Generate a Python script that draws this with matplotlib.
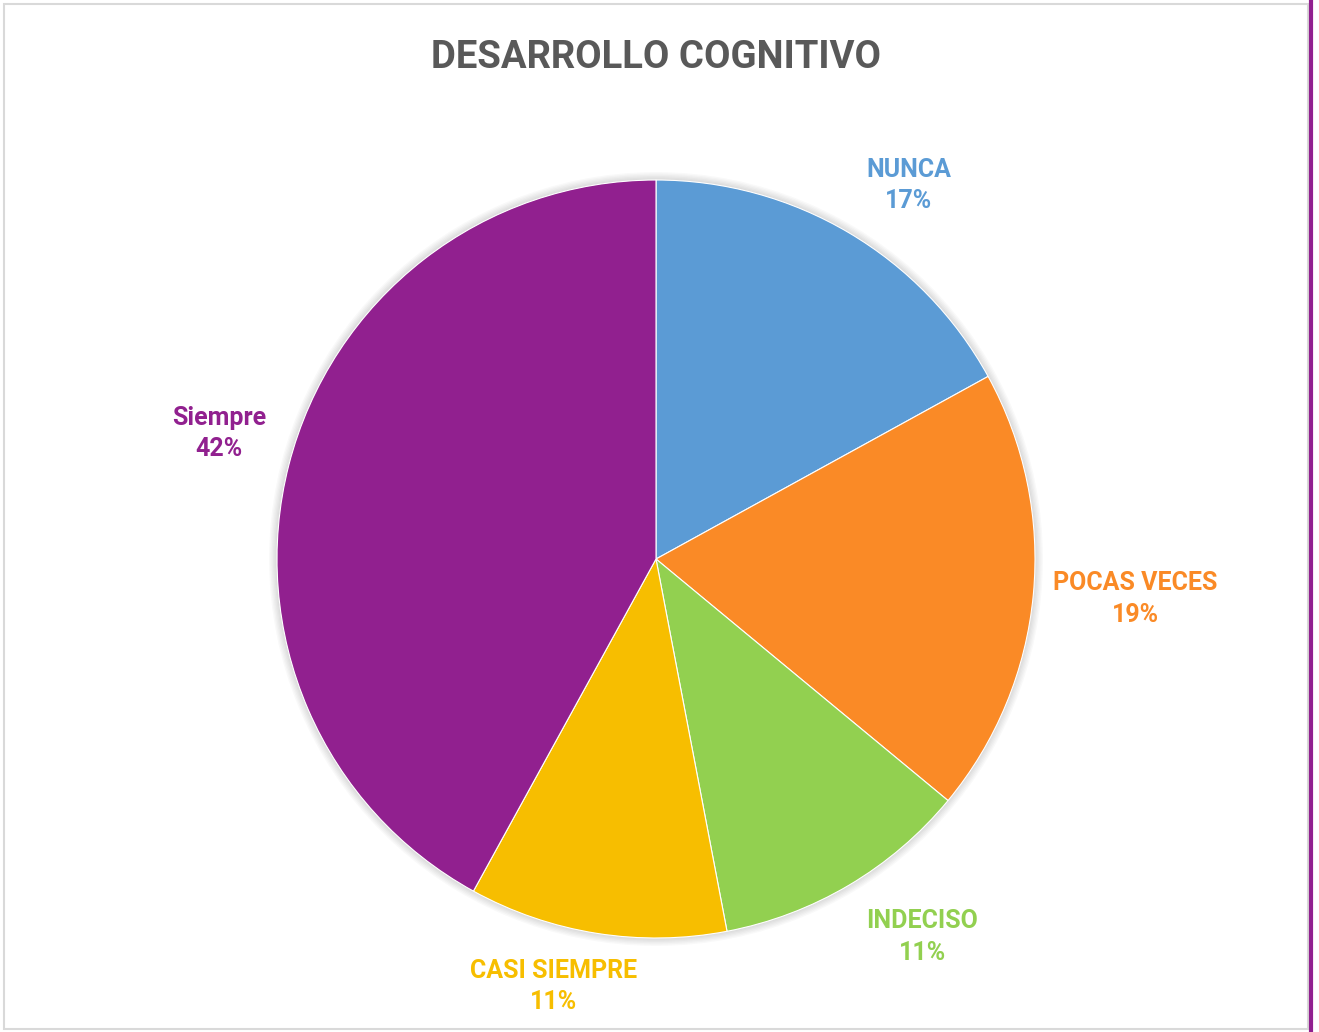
import numpy as np
import matplotlib.pyplot as plt
from matplotlib.patches import Rectangle, Circle
from matplotlib.lines import Line2D

categories = ['NUNCA', 'POCAS VECES', 'INDECISO', 'CASI SIEMPRE', 'Siempre']
values = [17, 19, 11, 11, 42]
colors = ['#5B9BD5', '#FA8A26', '#92D050', '#F7BE00', '#91208F']
label_dist = [1.19, 1.27, 1.22, 1.16, 1.20]
label_shift = [-3.5, 0.6, 4.6, -4.5, -1.6]   # degrees, like excel's best fit

W, H = 1319, 1032
cx, cy, R = 656, 559, 379
FONT = ['Roboto', 'DejaVu Sans']

fig = plt.figure(figsize=(W / 100, H / 100), dpi=100)
fig.patch.set_facecolor('white')

# chart border and the purple line on the right
fig.add_artist(Rectangle((4 / W, 3 / H), 1304 / W, 1025 / H, transform=fig.transFigure,
                         fill=False, edgecolor='#D9D9D9', linewidth=1.5))
fig.add_artist(Line2D([1311 / W, 1311 / W], [0, 1], transform=fig.transFigure,
                      color='#91208F', linewidth=3))

ax = fig.add_axes([0, 0, 1, 1])
ax.axis('off')

# soft shadow round the pie
for k in range(6):
    ax.add_patch(Circle((0, 0), 1 + 0.0035 * (k + 1), color='black', alpha=0.025,
                        linewidth=0, zorder=0))

wedges, _ = ax.pie(values, colors=colors, startangle=90, counterclock=False,
                   radius=1, wedgeprops=dict(edgecolor='white', linewidth=0.8))

ax.set_xlim(-cx / R, (W - cx) / R)
ax.set_ylim(-(H - cy) / R, cy / R)
ax.set_aspect('equal')

for w, name, c, d, s, v in zip(wedges, categories, colors, label_dist, label_shift, values):
    ang = np.deg2rad((w.theta1 + w.theta2) / 2 + s)
    ax.text(d * np.cos(ang), d * np.sin(ang), f'{name}\n{v}%', ha='center', va='center',
            color=c, fontsize=18, fontweight='bold', family=FONT, linespacing=1.4)

fig.text(656 / W, 1 - 58 / H, 'DESARROLLO COGNITIVO', ha='center', va='center',
         color='#595959', fontsize=27.5, fontweight='bold', family=FONT)

fig.savefig('out.png', dpi=100)
